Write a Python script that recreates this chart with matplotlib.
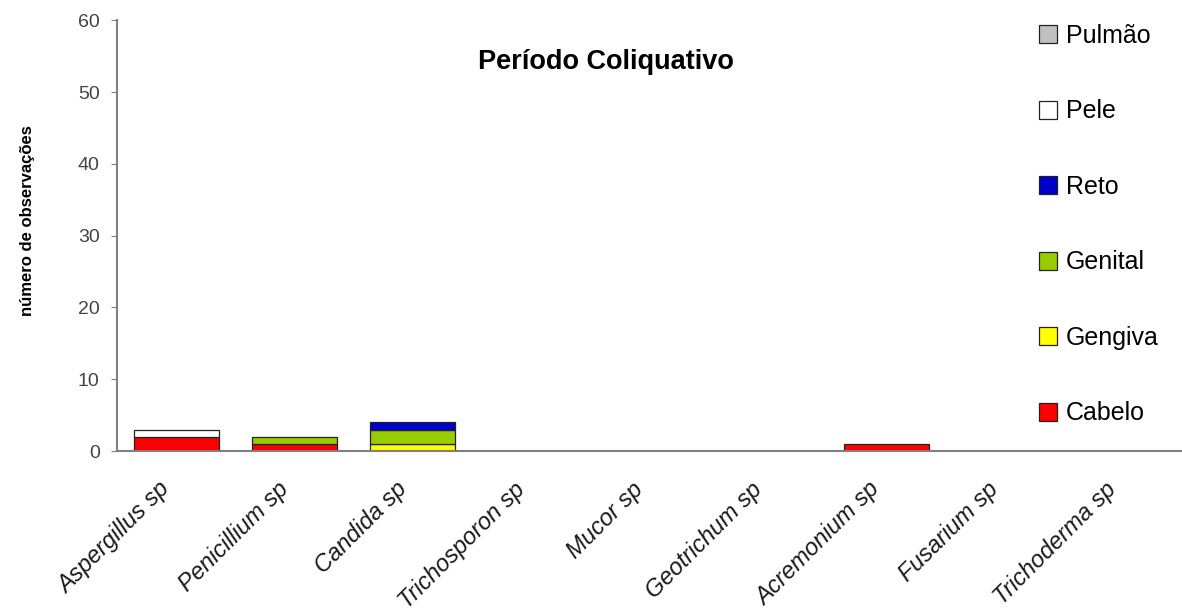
import numpy as np
import matplotlib.pyplot as plt
from matplotlib.patches import Patch

plt.rcParams['font.family'] = ['Liberation Sans', 'DejaVu Sans']

fungos = ['Aspergillus sp', 'Penicillium sp', 'Candida sp', 'Trichosporon sp', 'Mucor sp',
          'Geotrichum sp', 'Acremonium sp', 'Fusarium sp', 'Trichoderma sp']

cabelo = [2, 1, 0, 0, 0, 0, 1, 0, 0]
gengiva = [0, 0, 1, 0, 0, 0, 0, 0, 0]
genital = [0, 1, 2, 0, 0, 0, 0, 0, 0]
reto = [0, 0, 1, 0, 0, 0, 0, 0, 0]
pele = [1, 0, 0, 0, 0, 0, 0, 0, 0]
pulmao = [0, 0, 0, 0, 0, 0, 0, 0, 0]

series = [('Cabelo', cabelo, '#ff0000'),
          ('Gengiva', gengiva, '#ffff00'),
          ('Genital', genital, '#99cc00'),
          ('Reto', reto, '#0000cc'),
          ('Pele', pele, '#ffffff'),
          ('Pulmão', pulmao, '#c0c0c0')]

fig = plt.figure(figsize=(11.82, 6.12), dpi=100)
ax = fig.add_axes([0.099, 0.263, 0.901, 0.704])

x = np.arange(len(fungos))
bottom = np.zeros(len(fungos))
for name, vals, color in series:
    vals = np.array(vals, dtype=float)
    m = vals > 0
    if m.any():
        ax.bar(x[m], vals[m], 0.72, bottom=bottom[m], color=color,
               edgecolor='#222222', linewidth=0.9)
    bottom += vals

ax.set_xlim(-0.5, 8.5)
ax.set_ylim(0, 60)
ax.set_yticks(range(0, 61, 10))
ax.set_xticks(x)
ax.set_xticklabels([])
# category labels, offset like Excel's rotated labels
for i, name in enumerate(fungos):
    ax.annotate(name, xy=(i, 0), xycoords=('data', 'axes fraction'),
                xytext=(-7, -25), textcoords='offset points', rotation=45,
                ha='right', va='center', rotation_mode='anchor',
                fontsize=17, style='italic', color='#1a1a1a', annotation_clip=False)
ax.tick_params(axis='x', length=0)
ax.tick_params(axis='y', length=4.5, color='#808080', labelsize=14, labelcolor='#444444',
               pad=8)
for s in ['top', 'right']:
    ax.spines[s].set_visible(False)
for s in ['left', 'bottom']:
    ax.spines[s].set_color('#808080')
    ax.spines[s].set_linewidth(1.5)

ax.set_ylabel('número de observações', fontsize=12, fontweight='bold')
ax.yaxis.set_label_coords(-0.077, 0.534)
ax.text(0.459, 0.903, 'Período Coliquativo', transform=ax.transAxes, ha='center',
        va='center', fontsize=19.5, fontweight='bold')

handles = [Patch(facecolor=c, edgecolor='#222222', linewidth=0.9, label=n)
           for n, v, c in series[::-1]]
fig.legend(handles=handles, loc='upper left', bbox_to_anchor=(0.879, 0.961),
           frameon=False, fontsize=18, labelspacing=2.06, handlelength=0.72,
           handleheight=0.72, handletextpad=0.36, borderpad=0, borderaxespad=0)

fig.savefig('out.png', dpi=100)
